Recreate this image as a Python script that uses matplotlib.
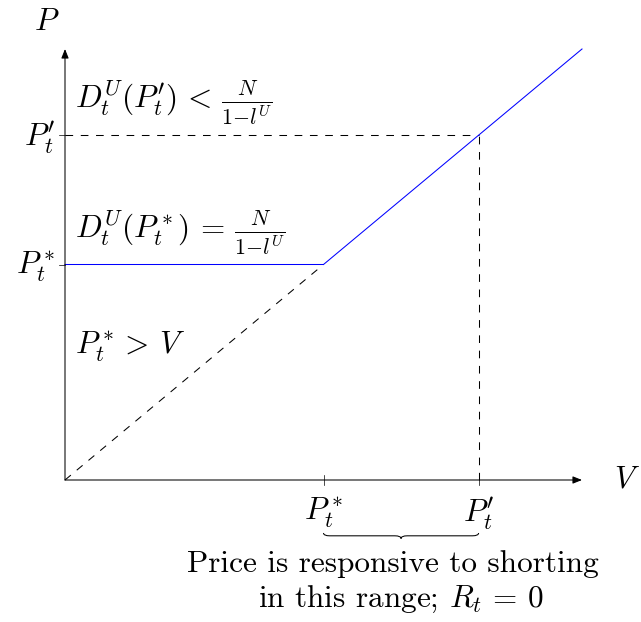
import matplotlib
matplotlib.use("Agg")
import matplotlib.pyplot as plt
from matplotlib.path import Path
from matplotlib.patches import PathPatch

plt.rcParams['mathtext.fontset'] = 'cm'
plt.rcParams['font.family'] = 'cmr10'
plt.rcParams['lines.scale_dashes'] = False

# values of the sketch (axis units)
pStar = 5.0
pPrime = 8.0
vMax = 10.0
pMax = 10.0
blueX = [0.0, pStar, vMax]
blueY = [pStar, pStar, pMax]
diagX = [0.0, pStar]
diagY = [0.0, pStar]

fs = 22.5
lw = 0.75
dash = (0, (5.5, 5.5))

fig = plt.figure(figsize=(6.41, 6.22), dpi=100)
ax = fig.add_axes([0, 0, 1, 1])
ax.set_xlim(-65 / 51.7, 576 / 51.7)
ax.set_ylim(-142 / 43.1, 480 / 43.1)
ax.axis('off')

# axes with arrows
arw = dict(arrowstyle='-|>,head_length=0.55,head_width=0.22', color='black', lw=lw,
           shrinkA=0, shrinkB=0)
ax.annotate('', xy=(vMax, 0), xytext=(0, 0), arrowprops=arw)
ax.annotate('', xy=(0, pMax), xytext=(0, 0), arrowprops=arw)

# dashed guides
ax.plot(diagX, diagY, color='black', lw=lw, linestyle=dash)
ax.plot([0, pPrime], [pPrime, pPrime], color='black', lw=lw, linestyle=dash)
ax.plot([pPrime, pPrime], [0, pPrime], color='black', lw=lw, linestyle=dash)

# price curve
ax.plot(blueX, blueY, color='#0000ff', lw=lw)

# ticks
for xv in [pStar, pPrime]:
    ax.plot([xv, xv], [-5 / 43.1, 5 / 43.1], color='black', lw=0.5)
for yv in [pStar, pPrime]:
    ax.plot([-6 / 51.7, 0], [yv, yv], color='black', lw=0.5)

# axis labels
ax.text(-0.35, 10.63, r'$P$', fontsize=fs, ha='center', va='center')
ax.text(10.88, 0, r'$V$', fontsize=fs, ha='center', va='center')

ax.text(-0.19, pPrime - 0.05, r"$P_t'$", fontsize=fs, ha='right', va='center')
ax.text(-0.19, pStar - 0.05, r'$P_t^*$', fontsize=fs, ha='right', va='center')
ax.text(pStar, -0.35, r'$P_t^*$', fontsize=fs, ha='center', va='top')
ax.text(pPrime, -0.35, r"$P_t'$", fontsize=fs, ha='center', va='top')

ax.text(0.19, 8.75, r"$D_t^U(P_t')\,<\,\frac{N}{1{-}l^U}$", fontsize=fs, ha='left', va='center')
ax.text(0.19, 5.75, r"$D_t^U(P_t^*)\,=\,\frac{N}{1{-}l^U}$", fontsize=fs, ha='left', va='center')
ax.text(0.19, 3.09, r"$P_t^*{>}\,V$", fontsize=fs, ha='left', va='center')

# brace under the responsive range
y0 = -1.23
amp = 0.13
q = 0.12
xm = (pStar + pPrime) / 2
h = amp / 2
verts = [(pStar, y0), (pStar, y0 - h), (pStar + q, y0 - h),
         (xm - q, y0 - h), (xm, y0 - h), (xm, y0 - amp),
         (xm, y0 - h), (xm + q, y0 - h),
         (pPrime - q, y0 - h), (pPrime, y0 - h), (pPrime, y0)]
codes = [Path.MOVETO, Path.CURVE3, Path.CURVE3,
         Path.LINETO, Path.CURVE3, Path.CURVE3,
         Path.CURVE3, Path.CURVE3,
         Path.LINETO, Path.CURVE3, Path.CURVE3]
ax.add_patch(PathPatch(Path(verts, codes), facecolor='none', edgecolor='black', lw=lw))

ax.text(6.34, -2.13, 'Price is responsive to shorting', fontsize=fs, ha='center', va='baseline')
ax.text(6.5, -2.95, r'in this range; $R_t\,=\,0$', fontsize=fs, ha='center', va='baseline')

fig.savefig('out.png', dpi=100)
